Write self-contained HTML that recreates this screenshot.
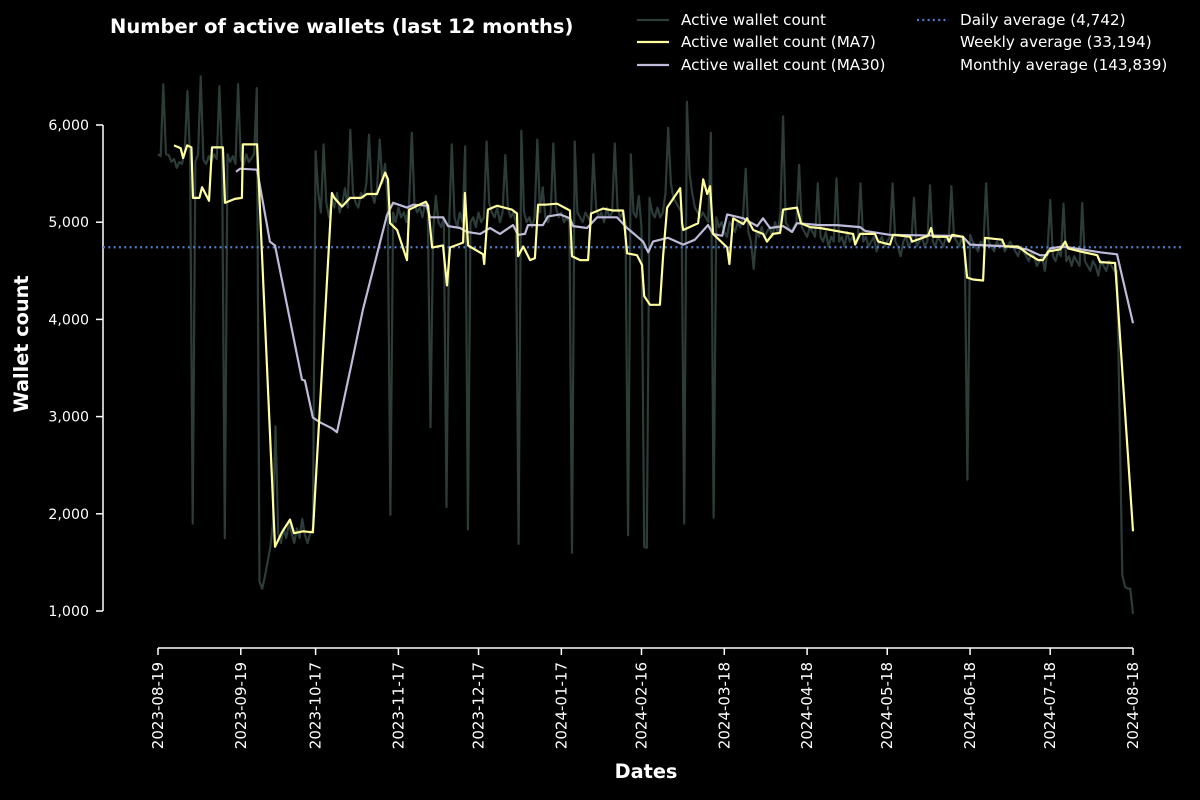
<!DOCTYPE html>
<html><head><meta charset="utf-8">
<style>
html,body{margin:0;padding:0;background:#000;}
svg{display:block;font-family:"DejaVu Sans","Liberation Sans",sans-serif;}
</style></head>
<body>
<svg id="chart" width="1200" height="800" viewBox="0 0 1200 800" xmlns="http://www.w3.org/2000/svg">
<rect width="1200" height="800" fill="#000"/>
<text x="110" y="33" fill="#fff" font-size="19.5" font-weight="bold">Number of active wallets (last 12 months)</text>
<text transform="translate(28,344) rotate(-90)" text-anchor="middle" fill="#fff" font-size="19.3" font-weight="bold">Wallet count</text>
<text x="646" y="778" text-anchor="middle" fill="#fff" font-size="19.3" font-weight="bold">Dates</text>
<g id="legend" font-size="15.2" fill="#fff">
  <g><line x1="637" y1="20" x2="669" y2="20" stroke="#2b3c39" stroke-width="2.2"/><text x="681" y="25">Active wallet count</text></g>
  <g><line x1="637" y1="42" x2="669" y2="42" stroke="#ffff9e" stroke-width="2.2"/><text x="681" y="47">Active wallet count (MA7)</text></g>
  <g><line x1="637" y1="65" x2="669" y2="65" stroke="#bebada" stroke-width="2.2"/><text x="681" y="70">Active wallet count (MA30)</text></g>
  <g><line x1="917" y1="20" x2="949" y2="20" stroke="#4f7cc4" stroke-width="2.2" stroke-dasharray="2,3.3"/><text x="960" y="25">Daily average (4,742)</text></g>
  <text x="960" y="47">Weekly average (33,194)</text>
  <text x="960" y="70">Monthly average (143,839)</text>
</g>
<g id="axes"></g>
<g id="plot"></g>
</svg>
<script>
const startDate = '2023-08-19';
const rawValues = [5700,5680,6420,5700,5690,5620,5650,5560,5620,5600,5720,6350,5650,1900,5620,5700,6500,5640,5600,5680,5620,5700,5650,6400,5650,1750,5700,5620,5680,5600,6420,5650,5580,5700,5620,5660,5700,6380,1300,1230,1350,1500,1650,1900,2900,1800,1700,1850,1750,1900,1800,1700,1850,1750,1950,1780,1700,1800,1850,5730,5300,5100,5800,5200,5050,5250,5150,5300,5100,5200,5350,5150,5950,5300,5200,5150,5300,5250,5400,5900,5300,5200,5350,5850,5400,5600,5200,1990,5100,5000,5150,5050,5100,5000,5200,5920,5200,5100,5150,5050,5200,5100,2890,4900,5270,5000,4950,5050,2070,5000,5800,5050,4950,5100,5000,5780,1840,5000,5050,4950,5100,5000,5050,5830,5200,5100,5050,5150,5000,5100,5690,5150,5050,5100,5000,1690,5940,5100,5000,5050,4950,5050,5850,5100,5360,5050,5000,5100,5810,5150,5050,5100,5000,5050,5000,1600,5830,5100,5050,5000,5100,5050,5000,5700,5150,5050,5100,5000,5150,5050,5100,5810,5150,5050,5100,5000,1780,5700,5100,5050,5270,4950,1660,1650,5250,5100,5050,5150,5050,5100,5300,5970,5400,5250,5200,5150,5100,1900,6240,5500,5300,5150,5100,5050,5100,5050,5000,5920,1960,5050,4950,5000,4900,4850,5000,4950,4900,5000,4950,5050,5550,4900,4800,4520,4900,4850,4950,4850,4900,4950,4850,5000,4900,5100,6090,5000,4950,4900,4950,5000,5590,4950,4900,4850,4950,4900,4850,5400,4850,4800,4900,4750,4850,4800,5450,4800,4850,4750,4900,4800,4850,4780,4850,5400,4800,4850,4750,4800,4850,4700,4800,4850,4750,4800,4850,5400,4800,4750,4650,4800,4850,4750,4800,5250,4750,4800,4850,4750,4800,5380,4800,4750,4850,4800,4750,4850,4800,5370,4850,4800,4750,4850,4800,2350,4870,4800,4750,4700,4800,4750,5400,4800,4750,4700,4800,4750,4800,4700,4750,4800,4750,4700,4650,4750,4700,4650,4600,4700,4650,4550,4600,4650,4500,4700,5230,4650,4600,4700,4650,5190,4600,4650,4550,4650,4600,4550,5200,4600,4550,4500,4600,4550,4450,4600,4550,4500,4600,4550,4500,4500,3000,1370,1250,1230,1230,970];
const ma7Days = [6,8.5,9.4,10.9,12.5,13.1,15.5,16.5,19.1,20.2,24.3,25.1,28.8,31.4,31.8,37.1,43.8,46.4,49.4,50.9,54.3,58,65.1,66,68.9,71.9,76,78.2,82,85,86.1,86.9,89.5,93.2,94,97,100.3,101.1,102.6,106.7,108.2,109.3,114.2,114.9,116.1,121.7,122.1,123.5,126.9,132.5,134.4,134.8,136.7,139.3,141.1,142.3,144.9,149.4,154.2,155,158,161,162.1,166.6,170.3,174.1,175.6,179.3,181.2,182,184.2,187.9,189.1,190.6,195.5,196.2,196.6,202.2,204.1,205.6,206.7,207.8,213.1,213.9,215.3,219.1,220.5,222.8,226.5,228,230.2,232.9,234,239.2,240.7,244.1,247.8,260.2,261,262.8,268.4,269.6,274,275.2,281.5,282.3,288.3,289.4,290.2,295.4,296.1,297.3,301.4,302.9,305.1,308.9,309.6,316,317.1,322,325.3,329.5,331.3,333.2,337.7,339.6,340.7,345.2,351.6,352.7,358.3,365];
const ma7Values = [5790,5760,5660,5790,5770,5250,5250,5360,5220,5770,5770,5200,5240,5250,5800,5800,1660,1810,1940,1800,1820,1810,5300,5250,5160,5250,5250,5290,5290,5510,5440,4990,4920,4610,5130,5170,5210,5170,4740,4760,4350,4740,4790,5300,4760,4670,4570,5130,5170,5130,5090,4650,4750,4610,4630,5180,5180,5190,5120,4650,4610,4610,5090,5140,5120,5120,4680,4660,4560,4240,4150,4150,4650,5150,5350,4990,4920,4990,5440,5290,5370,4880,4740,4570,5040,4980,5040,4920,4880,4800,4880,4890,5130,5150,4990,4950,4940,4880,4770,4880,4880,4800,4770,4870,4850,4800,4860,4940,4850,4850,4800,4870,4850,4430,4410,4400,4840,4820,4750,4750,4680,4610,4610,4700,4720,4800,4730,4700,4660,4590,4580,1820];
const ma30Days = [29.2,30.7,37.1,41.9,43.8,53.9,55,58,60.7,65.1,67,72.6,76.7,85.7,88,93.2,95.5,100.7,101.8,106.7,108.6,113.1,115.7,120.6,124.3,128,132.9,134.8,137.4,138.5,144.1,146,150.5,154.2,155.4,160.6,164.4,171.8,175.6,181.6,183.5,185.3,190.9,196.6,201,205.9,207.8,211.2,213.1,219.1,224.3,226.5,229.1,234,237.4,239.2,247.8,254.2,262.8,264.7,274,296.5,301.4,304,319,325.3,330.2,332.8,334,338.8,352.7,359,365];
const ma30Values = [5520,5550,5540,4800,4760,3380,3370,2990,2940,2880,2840,3560,4100,5070,5200,5150,5180,5170,5050,5050,4960,4940,4900,4880,4940,4880,4970,4870,4880,4970,4970,5060,5080,5040,4960,4940,5050,5050,4940,4800,4690,4800,4840,4770,4820,4970,4880,4860,5080,5040,4960,5040,4940,4960,4900,4990,4970,4970,4950,4910,4870,4860,4850,4770,4750,4720,4660,4660,4730,4750,4690,4670,3960];
const dailyAverage = 4742;
const yTicks = [1000,2000,3000,4000,5000,6000];
const xTickLabels = ['2023-08-19','2023-09-19','2023-10-17','2023-11-17','2023-12-17','2024-01-17','2024-02-16','2024-03-18','2024-04-18','2024-05-18','2024-06-18','2024-07-18','2024-08-18'];

const NS = 'http://www.w3.org/2000/svg';
const X0 = 158, X1 = 1133, DAYS = 365;
const xScale = d => X0 + (X1 - X0) * d / DAYS;
const yScale = v => 611 - (v - 1000) * (611 - 125) / 5000;
const dayOf = s => Math.round((Date.parse(s + 'T00:00:00Z') - Date.parse(startDate + 'T00:00:00Z')) / 86400000);
function mk(tag, attrs, parent){ const e = document.createElementNS(NS, tag); for (const k in attrs) e.setAttribute(k, attrs[k]); parent.appendChild(e); return e; }

const axes = document.getElementById('axes');
const plot = document.getElementById('plot');

const ySpine = mk('line', {x1:103, y1:125, x2:103, y2:611, stroke:'#fff', 'stroke-width':1.5}, axes);


yTicks.forEach(v => {
  const y = yScale(v);
  const t = mk('line', {x1:96, y1:y, x2:103, y2:y, stroke:'#fff', 'stroke-width':1.5}, axes);
  
  
  const l = mk('text', {x:89, y:y+5, 'text-anchor':'end', fill:'#fff', 'font-size':14.2}, axes);
  
  
  l.textContent = v.toLocaleString('en-US');
});
const xSpine = mk('line', {x1:X0, y1:648, x2:X1, y2:648, stroke:'#fff', 'stroke-width':1.5}, axes);


xTickLabels.forEach(s => {
  const x = xScale(dayOf(s));
  const t = mk('line', {x1:x, y1:648, x2:x, y2:655, stroke:'#fff', 'stroke-width':1.5}, axes);
  
  
  const l = mk('text', {transform:`translate(${x+5},662) rotate(-90)`, 'text-anchor':'end', fill:'#fff', 'font-size':15}, axes);
  
  
  l.textContent = s;
});

const rawPts = rawValues.map((v,i) => xScale(i).toFixed(1) + ',' + yScale(v).toFixed(1)).join(' ');
const rawLine = mk('polyline', {points:rawPts, fill:'none', stroke:'#2b3c39', 'stroke-width':2.2, 'stroke-linejoin':'round'}, plot);



const avgLine = mk('line', {x1:103, y1:yScale(dailyAverage), x2:1183, y2:yScale(dailyAverage), stroke:'#4f7cc4', 'stroke-width':2.2, 'stroke-dasharray':'2,3.3'}, plot);



const ma30Pts = ma30Days.map((d,i) => xScale(d).toFixed(1) + ',' + yScale(ma30Values[i]).toFixed(1)).join(' ');
const ma30Line = mk('polyline', {points:ma30Pts, fill:'none', stroke:'#bebada', 'stroke-width':2.2, 'stroke-linejoin':'round'}, plot);



const ma7Pts = ma7Days.map((d,i) => xScale(d).toFixed(1) + ',' + yScale(ma7Values[i]).toFixed(1)).join(' ');
const ma7Line = mk('polyline', {points:ma7Pts, fill:'none', stroke:'#ffff9e', 'stroke-width':2.2, 'stroke-linejoin':'round'}, plot);


</script>
</body></html>
